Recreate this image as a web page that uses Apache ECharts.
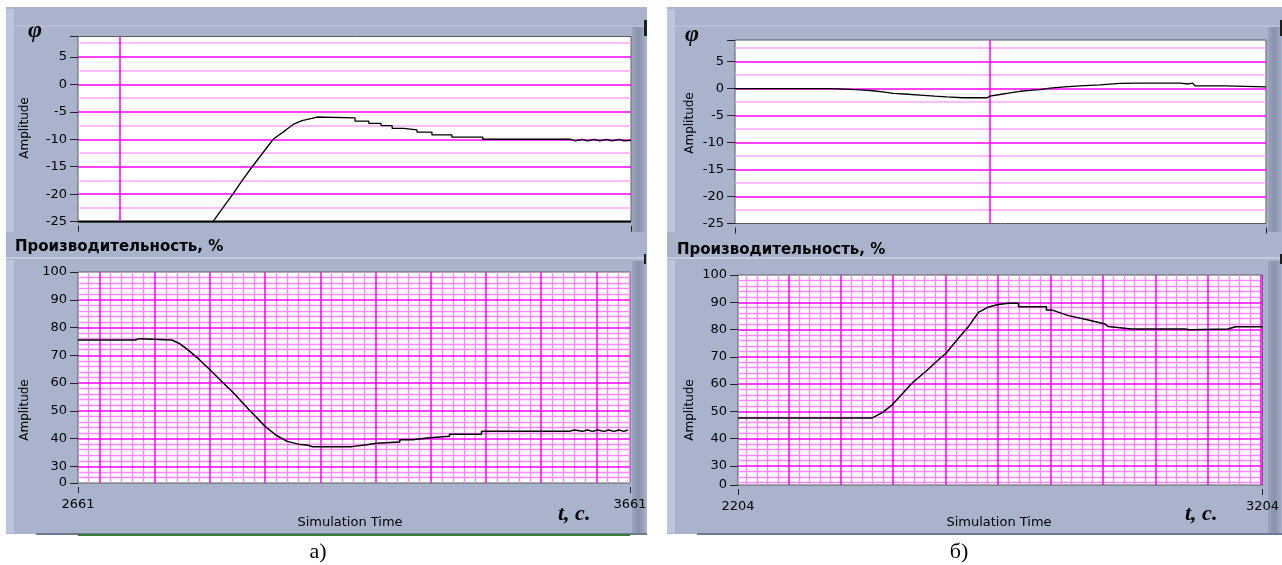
<!DOCTYPE html>
<html><head><meta charset="utf-8">
<script src="https://cdn.jsdelivr.net/npm/echarts@6/dist/echarts.min.js"></script>
<style>html,body{margin:0;padding:0;background:#fff}#c{width:1282px;height:565px}</style>
</head><body><div id="c"></div><script>
// ---------------- DATA ----------------
// Panel a) time range
const tRangeA = [2661, 3661];
const tRangeB = [2204, 3204];
// phi, panel a
const phiA_t = [2661,2905,2923,2941,2958,2976,2995,3014,3023,3032,3041,3050,3066,3084,3093,3162,3162,3187,3187,3209,3209,3229,3229,3250,3250,3274,3274,3301,3301,3337,3337,3393,3393,3552,3552,3560,3560,3573,3573,3582,3582,3595,3595,3604,3604,3617,3617,3626,3626,3640,3640,3648,3648,3661];
const phiA_v = [-25,-25,-22.5,-20,-17.5,-15,-12.5,-10,-9.3,-8.7,-8.0,-7.3,-6.6,-6.2,-5.95,-6.1,-6.7,-6.7,-7.1,-7.1,-7.5,-7.5,-8.0,-8.0,-8.3,-8.3,-8.7,-8.7,-9.2,-9.2,-9.6,-9.6,-10.0,-10.0,-10.3,-10.3,-10.0,-10.0,-10.3,-10.3,-10.0,-10.0,-10.3,-10.3,-10.0,-10.0,-10.3,-10.3,-10.0,-10.0,-10.3,-10.3,-10.0,-10.2];
const phiA_floor = -25;           // clipped lower trace in panel a
const cursorA = 2737;             // vertical cursor in panel a (upper chart)
// productivity, panel a
const prodA_t = [2661,2765,2765,2772,2772,2831,2845,2858,2880,2900,2920,2942,2970,3000,3020,3040,3060,3078,3085,3157,3157,3184,3184,3202,3202,3244,3244,3267,3267,3294,3294,3334,3334,3392,3392,3551,3551,3560,3563,3575,3575,3584,3587,3593,3593,3602,3605,3614,3614,3622,3625,3632,3632,3641,3644,3650,3650,3657];
const prodA_v = [75.5,75.5,76.0,76.0,75.5,75.5,74.2,72.3,68.6,64.8,60.8,56.6,50.6,44.4,41.2,39.0,38.0,37.6,37.1,37.1,37.8,37.8,38.3,38.3,38.8,38.8,39.6,39.6,40.2,40.2,40.8,40.8,41.6,41.6,42.6,42.6,43.1,43.1,42.6,42.6,43.1,43.1,42.6,42.6,43.1,43.1,42.6,42.6,43.1,43.1,42.6,42.6,43.1,43.1,42.6,42.6,43.1,43.1];
// phi, panel б
const phiB_t = [2204,2389,2389,2440,2464,2482,2502,2530,2552,2580,2603,2633,2679,2684,2703,2722,2741,2760,2778,2797,2825,2854,2891,2929,2967,3042,3042,3058,3061,3066,3070,3127,3127,3204];
const phiB_v = [0,0,-0.2,-0.25,-0.4,-0.6,-0.9,-1.05,-1.2,-1.4,-1.55,-1.7,-1.7,-1.4,-1.1,-0.8,-0.5,-0.35,-0.2,0.1,0.3,0.5,0.7,0.95,1.0,1.0,0.85,0.85,1.2,1.0,0.5,0.5,0.3,0.3];
const cursorB = 2684;
// productivity, panel б
const prodB_t = [2204,2460,2480,2498,2517,2536,2563,2582,2601,2625,2644,2654,2663,2682,2700,2720,2739,2739,2792,2792,2802,2802,2834,2866,2904,2910,2954,3056,3056,3065,3065,3138,3153,3204];
const prodB_v = [47.6,47.6,49.6,52.4,56.4,60.4,64.8,68.2,71.4,77.0,81.2,84.0,86.4,88.3,89.2,89.6,89.6,88.4,88.4,87.2,87.2,86.6,85.1,83.8,82.0,81.1,80.2,80.2,79.9,79.9,80.2,80.2,81.0,81.0];
// tick labels
const phiTickValues = [-25,-20,-15,-10,-5,0,5];
const prodTickValues = [30,40,50,60,70,80,90,100];
const prodBottomLabel = '0';       // label printed at the bottom of the productivity scale
const phiMaxA = 8.7, phiMaxB = 9.0;
const prodMinA = 24, prodMinB = 23;

// ---------------- HELPERS ----------------
const zip = (t, v) => t.map((x, i) => [x, v[i]]);
const MAJ = '#ff00ff', MIN = '#ffa6ff', MINB = '#ff88ff';
const TXT = '#000';
const FONT = 'DejaVu Sans';

function range(a, b, s) { const r = []; for (let v = a; v <= b + 1e-9; v += s) r.push(+v.toFixed(4)); return r; }

function hLines(vals, color, w) { return vals.map(v => ({ yAxis: v, lineStyle: { color, width: w, type: 'solid' } })); }
function vLines(vals, color, w) { return vals.map(v => ({ xAxis: v, lineStyle: { color, width: w, type: 'solid' } })); }
function gridSeries(idx, lines, z) {
  return { type: 'line', xAxisIndex: idx, yAxisIndex: idx, data: [], z, silent: true, animation: false,
    markLine: { silent: true, symbol: ['none', 'none'], label: { show: false }, animation: false, data: lines } };
}
function curve(idx, data, w, z) {
  return { type: 'line', xAxisIndex: idx, yAxisIndex: idx, data, showSymbol: false, z: z || 5, silent: true,
    lineStyle: { color: '#000', width: w || 1.3 }, animation: false };
}

const grids = [
  { left: 78, top: 36.5, width: 553, height: 185.2 },
  { left: 78, top: 272, width: 552, height: 211 },
  { left: 735, top: 40, width: 531, height: 183.5 },
  { left: 738, top: 275, width: 527, height: 210 }
].map(g => Object.assign(g, { show: true, backgroundColor: '#fff', borderColor: '#5a5a5a', borderWidth: 1 }));

function xAx(idx, rng, labels) {
  return { gridIndex: idx, type: 'value', min: rng[0], max: rng[1], offset: 4,
    axisLine: { show: false, onZero: false }, splitLine: { show: false },
    axisTick: { show: true, length: 6, customValues: rng, lineStyle: { color: '#222', width: 1 } },
    axisLabel: { show: labels, customValues: rng, margin: 11, color: TXT, fontFamily: FONT, fontSize: 13, formatter: v => String(v) } };
}
function yPhi(idx, max) {
  return { gridIndex: idx, type: 'value', min: -25, max: max,
    axisLine: { show: false, onZero: false }, splitLine: { show: false },
    axisTick: { show: true, length: 8, customValues: phiTickValues.concat([max]), lineStyle: { color: '#222' } },
    axisLabel: { customValues: phiTickValues, margin: 11, color: TXT, fontFamily: FONT, fontSize: 13, formatter: v => String(v) } };
}
function yProd(idx, min) {
  const vals = [min].concat(prodTickValues);
  return { gridIndex: idx, type: 'value', min: min, max: 100,
    axisLine: { show: false, onZero: false }, splitLine: { show: false },
    axisTick: { show: true, length: 8, customValues: vals, lineStyle: { color: '#222' } },
    axisLabel: { customValues: vals, margin: 11, color: TXT, fontFamily: FONT, fontSize: 13,
      formatter: v => (v === min ? prodBottomLabel : String(v)) } };
}

// grid lines
const phiMajor = range(-20, 5, 5), phiMinor = range(-22.5, 7.5, 5);
function prodMinor(min) { return range(Math.ceil(min / 2) * 2, 98, 2).filter(v => v % 10 !== 0 && v > min); }
const prodMajor = range(30, 90, 10);
function tMinor(r) { return range(Math.ceil(r[0] / 20) * 20, r[1], 20).filter(v => v % 100 !== 0 && v > r[0] && v < r[1]); }
function tMajor(r) { return range(Math.ceil(r[0] / 100) * 100, r[1], 100).filter(v => v > r[0] && v < r[1]); }

const series = [
  // panel a top
  gridSeries(0, hLines(phiMinor, MIN, 1.5), 1),
  gridSeries(0, hLines(phiMajor, MAJ, 1.5).concat(vLines([cursorA], MAJ, 1.5)), 2),
  curve(0, [[tRangeA[0], phiA_floor], [tRangeA[1], phiA_floor]], 2.2, 4),
  curve(0, zip(phiA_t, phiA_v), 1.3),
  // panel a bottom
  gridSeries(1, hLines(prodMinor(prodMinA), MINB, 1.3).concat(vLines(tMinor(tRangeA), MINB, 1.3)), 1),
  gridSeries(1, hLines(prodMajor, MAJ, 1.5).concat(vLines(tMajor(tRangeA), MAJ, 1.5)), 2),
  curve(1, zip(prodA_t, prodA_v), 1.5),
  // panel б top
  gridSeries(2, hLines(phiMinor, MIN, 1.5), 1),
  gridSeries(2, hLines(phiMajor, MAJ, 1.5).concat(vLines([cursorB], MAJ, 1.5)), 2),
  curve(2, zip(phiB_t, phiB_v), 1.3),
  // panel б bottom
  gridSeries(3, hLines(prodMinor(prodMinB), MINB, 1.3).concat(vLines(tMinor(tRangeB), MINB, 1.3)), 1),
  gridSeries(3, hLines(prodMajor, MAJ, 1.5).concat(vLines(tMajor(tRangeB), MAJ, 1.5)), 2),
  curve(3, zip(prodB_t, prodB_v), 1.5)
];

// ---------------- FRAME GRAPHICS ----------------
const BG = '#a9b4cc', LIGHT = '#bcc6de';
function barGrad() { return new echarts.graphic.LinearGradient(0, 0, 1, 0, [{ offset: 0, color: '#9aa4bc' }, { offset: 0.5, color: '#8892aa' }, { offset: 1, color: '#a0aac2' }]); }
function panel(x0, w, barX) {
  const els = [];
  const R = (x, y, ww, hh, fill, z) => els.push({ type: 'rect', shape: { x, y, width: ww, height: hh }, style: { fill }, z: z || -10, silent: true });
  R(x0, 7, w, 527, BG);
  R(x0, 9, 8, 223, LIGHT, -9);
  R(x0, 260, 8, 273, LIGHT, -9);
  R(x0 + 8, 25, w - 8, 2, '#b4bed5', -9);
  R(x0, 257, w, 2, '#c3cbdf', -9);
  R(barX, 27, 13, 205, barGrad(), -9);
  R(barX, 261, 13, 272, barGrad(), -9);
  R(barX + 12, 20, 3, 16, '#1e1e1e', -8);
  R(barX + 12, 254, 2, 10, '#1e1e1e', -8);
  R(x0 + 30, 533, w - 30, 2, '#6f7891', -8);
  return els;
}
function T(x, y, text, font, align, vAlign, rot) {
  return { type: 'text', x, y, rotation: rot || 0, z: 50, silent: true,
    style: { text, font, fill: '#000', align: align || 'center', verticalAlign: vAlign || 'middle' } };
}
const fSym = 'bold italic 24px "Liberation Serif"';
const fAmp = '12px "DejaVu Sans"';
const fTitle = 'bold 15px "DejaVu Sans"';
const fSim = '13px "DejaVu Sans"';
const fT = 'bold italic 22px "Liberation Serif"';
const fCap = '22px "Liberation Serif"';

const graphics = [].concat(
  panel(6, 641, 632),
  panel(667, 615, 1268),
  [
    { type: 'rect', shape: { x: 78, y: 534, width: 552, height: 2 }, style: { fill: '#3a7d3a' }, z: -7, silent: true },
    T(35, 31, 'φ', fSym), T(692, 35, 'φ', fSym),
    T(25, 128, 'Amplitude', fAmp, 'center', 'middle', Math.PI / 2),
    T(25, 410, 'Amplitude', fAmp, 'center', 'middle', Math.PI / 2),
    T(690, 123, 'Amplitude', fAmp, 'center', 'middle', Math.PI / 2),
    T(690, 410, 'Amplitude', fAmp, 'center', 'middle', Math.PI / 2),
    T(15, 247, 'Производительность, %', fTitle, 'left'),
    T(677, 250, 'Производительность, %', fTitle, 'left'),
    T(350, 523, 'Simulation Time', fSim), T(999, 523, 'Simulation Time', fSim),
    T(558, 514, 't, c.', fT, 'left'), T(1185, 514, 't, c.', fT, 'left'),
    T(318, 552, 'а)', fCap), T(959, 552, 'б)', fCap)
  ]
);

const chart = echarts.init(document.getElementById('c'), null, { renderer: 'canvas' });
chart.setOption({
  animation: false,
  backgroundColor: '#fff',
  grid: grids,
  xAxis: [xAx(0, tRangeA, false), xAx(1, tRangeA, true), xAx(2, tRangeB, false), xAx(3, tRangeB, true)],
  yAxis: [yPhi(0, phiMaxA), yProd(1, prodMinA), yPhi(2, phiMaxB), yProd(3, prodMinB)],
  series,
  graphic: { elements: graphics }
});
</script></body></html>
